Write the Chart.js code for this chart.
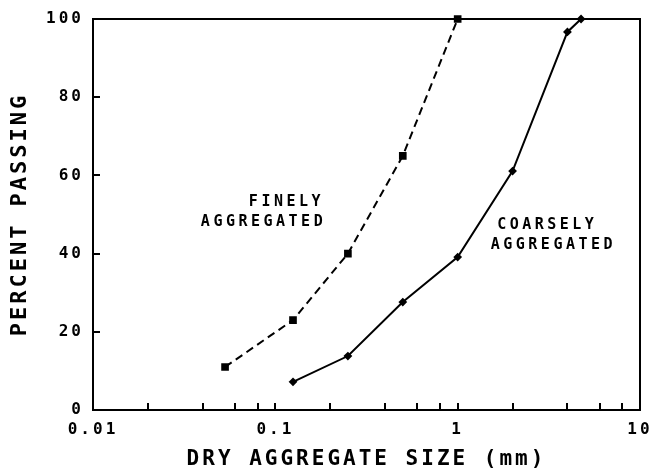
<!DOCTYPE html>
<html>
<head>
<meta charset="utf-8">
<script src="https://cdn.jsdelivr.net/npm/chart.js@4/dist/chart.umd.min.js"></script>
<style>
  html, body { margin: 0; padding: 0; background: #fff; }
</style>
</head>
<body>
<canvas id="chart" width="652" height="470"></canvas>
<script>
// Sieve sizes (mm) and percent passing
const fineSizes = [0.053, 0.125, 0.25, 0.5, 1];
const finePassing = [11, 23, 40, 65, 100];
const coarseSizes = [0.125, 0.25, 0.5, 1, 2, 4, 4.75];
const coarsePassing = [7.2, 13.8, 27.6, 39.1, 61.1, 96.7, 100];

// Axis ticks
const xTickLabels = [0.01, 0.1, 1, 10];
const xTickMarks = [0.02, 0.04, 0.06, 0.08, 0.1, 0.2, 0.4, 0.6, 0.8, 1, 2, 4, 6, 8];
const yTickLabels = [0, 20, 40, 60, 80, 100];

const FONT = '"DejaVu Sans Mono", "Liberation Mono", monospace';
Chart.defaults.font.family = FONT;
Chart.defaults.font.weight = 'bold';
Chart.defaults.color = '#000';

function toPoints(xs, ys) {
    return xs.map((x, i) => ({ x: x, y: ys[i] }));
}

// Plotter-like wide lettering
const spacing = {
    id: 'spacing',
    beforeUpdate(chart) { chart.ctx.letterSpacing = '3px'; },
    beforeDraw(chart) { chart.ctx.letterSpacing = '3px'; }
};

// Frame, inward tick marks and curve labels
const frame = {
    id: 'frame',
    beforeDatasetsDraw(chart) {
        const { ctx, chartArea: a, scales } = chart;
        ctx.save();
        ctx.strokeStyle = '#000';
        ctx.lineWidth = 2;
        ctx.strokeRect(a.left, a.top, a.right - a.left, a.bottom - a.top);
        ctx.beginPath();
        xTickMarks.forEach(v => {
            const px = Math.round(scales.x.getPixelForValue(v));
            ctx.moveTo(px, a.bottom);
            ctx.lineTo(px, a.bottom - 7);
        });
        yTickLabels.forEach(v => {
            const py = Math.round(scales.y.getPixelForValue(v));
            ctx.moveTo(a.left, py);
            ctx.lineTo(a.left + 7, py);
        });
        ctx.stroke();
        ctx.restore();
    },
    afterDatasetsDraw(chart) {
        const { ctx, scales } = chart;
        const x = scales.x, y = scales.y;
        ctx.save();
        ctx.letterSpacing = '3.5px';
        ctx.font = 'bold 15px ' + FONT;
        ctx.fillStyle = '#000';
        ctx.textBaseline = 'middle';
        ctx.textAlign = 'right';
        ctx.fillText('FINELY', x.getPixelForValue(0.185), y.getPixelForValue(53.2));
        ctx.fillText('AGGREGATED', x.getPixelForValue(0.19), y.getPixelForValue(48));
        ctx.textAlign = 'center';
        ctx.fillText('COARSELY', x.getPixelForValue(3.1), y.getPixelForValue(47.3));
        ctx.fillText('AGGREGATED', x.getPixelForValue(3.35), y.getPixelForValue(42.2));
        ctx.restore();
    }
};

new Chart(document.getElementById('chart'), {
    type: 'line',
    data: {
        datasets: [
            {
                label: 'Finely aggregated',
                data: toPoints(fineSizes, finePassing),
                borderColor: '#000',
                backgroundColor: '#000',
                borderWidth: 2,
                borderDash: [8, 5],
                pointStyle: 'rect',
                pointRadius: 4,
                tension: 0,
                clip: false
            },
            {
                label: 'Coarsely aggregated',
                data: toPoints(coarseSizes, coarsePassing),
                borderColor: '#000',
                backgroundColor: '#000',
                borderWidth: 2,
                pointStyle: 'rectRot',
                pointRadius: 3,
                tension: 0,
                clip: false
            }
        ]
    },
    options: {
        responsive: false,
        animation: false,
        layout: { padding: { left: 0, top: 19, right: 12, bottom: 0 } },
        plugins: {
            legend: { display: false },
            tooltip: { enabled: false }
        },
        scales: {
            x: {
                type: 'logarithmic',
                min: 0.01,
                max: 10,
                grid: { display: false, drawTicks: false },
                border: { display: false },
                afterBuildTicks: scale => {
                    scale.ticks = xTickLabels.map(v => ({ value: v }));
                },
                afterFit: scale => {
                    scale.height = 60;
                    scale.paddingLeft = 0;
                    scale.paddingRight = 0;
                },
                ticks: {
                    font: { size: 16 },
                    padding: 10,
                    maxRotation: 0,
                    autoSkip: false,
                    callback: v => String(v)
                },
                title: {
                    display: true,
                    text: 'DRY AGGREGATE SIZE (mm)',
                    font: { size: 21, lineHeight: 1 },
                    padding: { top: 0, bottom: 0 }
                }
            },
            y: {
                min: 0,
                max: 100,
                grid: { display: false, drawTicks: false },
                border: { display: false },
                afterBuildTicks: scale => {
                    scale.ticks = yTickLabels.map(v => ({ value: v }));
                },
                afterFit: scale => { scale.width = 93; },
                ticks: {
                    font: { size: 16 },
                    padding: 9
                },
                title: {
                    display: true,
                    text: 'PERCENT PASSING',
                    font: { size: 22, lineHeight: 1 },
                    padding: { top: 9, bottom: 0 }
                }
            }
        }
    },
    plugins: [spacing, frame]
});
</script>
</body>
</html>
